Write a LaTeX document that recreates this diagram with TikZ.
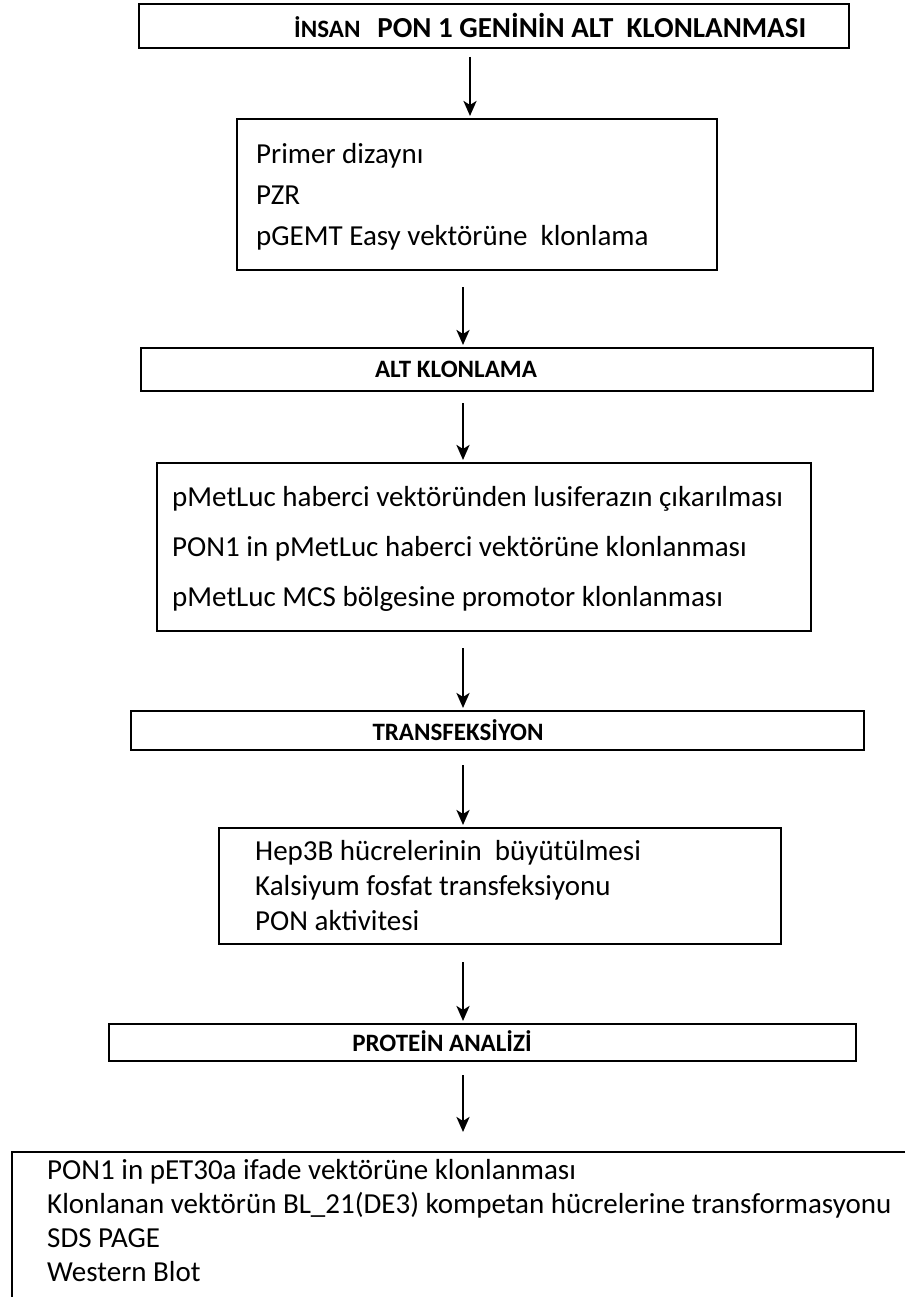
\documentclass[tikz,border=0pt]{standalone}
\usepackage{fontspec}
\setmainfont{Carlito}
\usetikzlibrary{arrows.meta}
\begin{document}
\begin{tikzpicture}[x=1pt,y=-1pt,
  box/.style={draw, line width=1.6pt, inner sep=0pt, anchor=north west},
  arr/.style={line width=2.6pt, -{Stealth[length=15pt,width=13pt,inset=4pt]}},
  hd/.style={font=\fontsize{25}{28}\selectfont\bfseries, inner sep=0pt},
  lst/.style={align=left, anchor=west, inner sep=0pt}]
\useasboundingbox (0,0) rectangle (905,1297);
% boxes
\node[box, minimum width=710pt, minimum height=44pt] (b1) at (138,3) {};
\node[box, minimum width=480pt, minimum height=151pt] (b2) at (236,118) {};
\node[box, minimum width=732pt, minimum height=43pt] (b3) at (140,347) {};
\node[box, minimum width=654pt, minimum height=168pt] (b4) at (156,462) {};
\node[box, minimum width=733pt, minimum height=39pt] (b5) at (130,710) {};
\node[box, minimum width=562pt, minimum height=116pt] (b6) at (218,827) {};
\node[box, minimum width=747pt, minimum height=37pt] (b7) at (108,1023) {};
\coordinate (b8nw) at (12,1152);
\coordinate (b8ne) at (905,1152);
\coordinate (b8sw) at (12,1297);
\draw[line width=1.6pt] (b8ne) -- (b8nw) -- (b8sw);
% texts
\node[inner sep=0pt, anchor=west] (t1) at (294,25) {\bfseries\fontsize{25}{28}\selectfont İNSAN\ \ \ \fontsize{29}{32}\selectfont PON 1 GENİNİN ALT\ \ KLONLANMASI};
\node[lst, font=\fontsize{29}{41}\selectfont] (t2) at (256,197) {Primer dizaynı\\PZR\\pGEMT Easy vektörüne\ \ klonlama};
\node[hd] (t3) at (456,369) {ALT KLONLAMA};
\node[lst, font=\fontsize{29}{50}\selectfont] (t4) at (172,549) {pMetLuc haberci vektöründen lusiferazın çıkarılması\\PON1 in pMetLuc haberci vektörüne klonlanması\\pMetLuc MCS bölgesine promotor klonlanması};
\node[hd] (t5) at (458,730) {TRANSFEKSİYON};
\node[lst, font=\fontsize{29}{35}\selectfont] (t6) at (255,886) {Hep3B hücrelerinin\ \ büyütülmesi\\Kalsiyum fosfat transfeksiyonu\\PON aktivitesi};
\node[hd] (t7) at (442,1041) {PROTEİN ANALİZİ};
\node[lst, font=\fontsize{29}{34}\selectfont] (t8) at (47,1221) {PON1 in pET30a ifade vektörüne klonlanması\\Klonlanan vektörün BL\_21(DE3) kompetan hücrelerine transformasyonu\\SDS PAGE\\Western Blot};
% arrows
\coordinate (a1) at (470,57);
\coordinate (a2) at (463,287);
\coordinate (a3) at (463,403);
\coordinate (a4) at (463,648);
\coordinate (a5) at (463,765);
\coordinate (a6) at (463,962);
\coordinate (a7) at (463,1075);
\coordinate (a8) at (463,1132);
\draw[arr] (a1) -- ([yshift=2pt]a1 |- b2.north);
\draw[arr] (a2) -- ([yshift=2pt]a2 |- b3.north);
\draw[arr] (a3) -- ([yshift=2pt]a3 |- b4.north);
\draw[arr] (a4) -- ([yshift=2pt]a4 |- b5.north);
\draw[arr] (a5) -- ([yshift=2pt]a5 |- b6.north);
\draw[arr] (a6) -- ([yshift=2pt]a6 |- b7.north);
\draw[arr] (a7) -- (a8);
\end{tikzpicture}
\end{document}
